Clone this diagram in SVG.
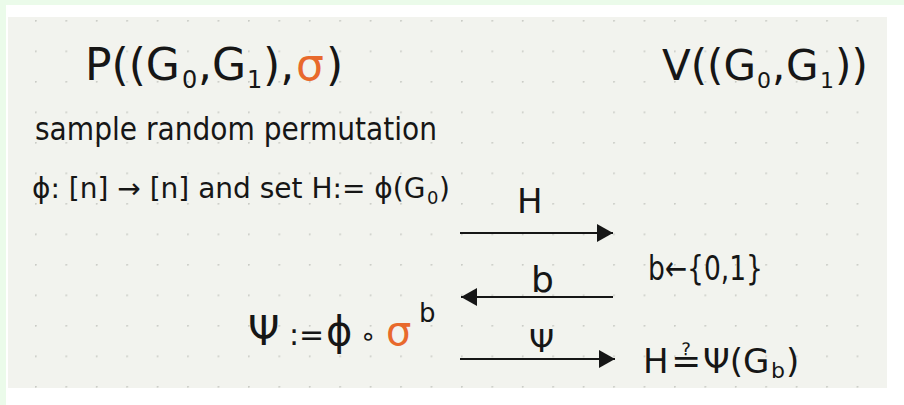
<svg xmlns="http://www.w3.org/2000/svg" width="904" height="405" viewBox="0 0 904 405">
<style>
text{font-family:"DejaVu Sans","Liberation Sans",sans-serif;fill:#161616}
.or{fill:#e8692c}
.conn line{stroke:#161616;stroke-width:2.2;fill:none}
</style>
<defs>
<pattern id="dots" x="35" y="20" width="30.43" height="30.5" patternUnits="userSpaceOnUse">
<circle cx="0.8" cy="0.8" r="1" fill="#c9cbc5"/>
</pattern>
<marker id="ah" markerUnits="userSpaceOnUse" markerWidth="18" markerHeight="20" refX="16" refY="10" orient="auto">
<path d="M0,1 L16,10 L0,19 z" fill="#161616"/>
</marker>
</defs>
<rect width="904" height="405" fill="#ffffff"/>
<rect width="904" height="5" fill="#ebfbea"/>
<rect width="6" height="405" fill="#ebfbea"/>
<rect x="8" y="17" width="879" height="371" fill="#f2f3ee"/>
<rect x="8" y="17" width="879" height="371" fill="url(#dots)"/>

<g id="prover-header"><text x="85" y="80" font-size="44">P((G<tspan x="182" y="88" font-size="24">0</tspan><tspan x="198" y="80">,</tspan><tspan x="212">G</tspan><tspan x="247" y="88" font-size="24">1</tspan><tspan x="263" y="80">),</tspan><tspan class="or" x="296">σ</tspan><tspan x="326">)</tspan></text></g>
<g id="verifier-header"><text x="662" y="80" font-size="42">V((G<tspan x="757" y="88" font-size="22">0</tspan><tspan x="772" y="80">,</tspan><tspan x="786">G</tspan><tspan x="820" y="88" font-size="22">1</tspan><tspan x="835" y="80">))</tspan></text></g>
<g id="prover-step1">
<text x="35" y="140" font-size="32" textLength="402" lengthAdjust="spacingAndGlyphs">sample random permutation</text>
<text x="32" y="198" font-size="28">ϕ: [n] → [n] and set H:= ϕ(G<tspan x="427" y="204" font-size="18">0</tspan><tspan x="439" y="198">)</tspan></text>
</g>
<g id="verifier-challenge"><text x="648" y="280" font-size="34" textLength="115" lengthAdjust="spacingAndGlyphs">b←{0,1}</text></g>
<g id="prover-response"><text x="248" y="345" font-size="40">Ψ<tspan x="289" font-size="30">:=</tspan><tspan x="326">ϕ</tspan><tspan x="360" font-size="26">∘</tspan><tspan class="or" x="386">σ</tspan><tspan x="419" y="322" font-size="26">b</tspan></text></g>
<g id="verifier-check"><text x="643" y="373" font-size="34">H<tspan x="671" font-size="36">≟</tspan><tspan x="703">Ψ(G</tspan><tspan x="771" y="378" font-size="22">b</tspan><tspan x="786" y="373">)</tspan></text></g>

<g id="connectors" class="conn">
<line x1="460" y1="233" x2="613" y2="233" marker-end="url(#ah)"/>
<line x1="613" y1="297" x2="461" y2="297" marker-end="url(#ah)"/>
<line x1="460" y1="359" x2="615" y2="359" marker-end="url(#ah)"/>
<text x="517" y="213" font-size="34">H</text>
<text x="531" y="292" font-size="36">b</text>
<text x="529" y="352" font-size="32">Ψ</text>
</g>
</svg>
